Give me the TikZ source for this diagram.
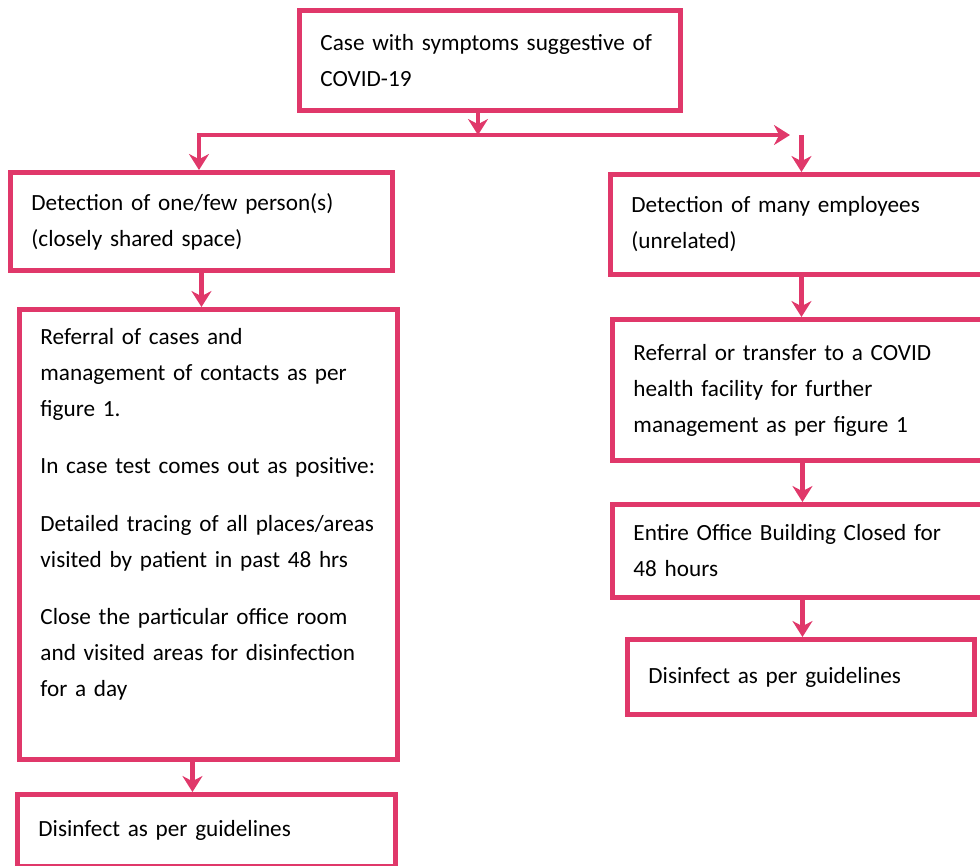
\documentclass[tikz,border=0pt]{standalone}
\usepackage{fontspec}
\setmainfont{Carlito}
\usetikzlibrary{arrows.meta,positioning,calc}
\definecolor{FlowMain}{HTML}{E0386A}
\tikzset{>=Stealth,flowtip/.tip={Stealth[length=3.2mm,width=4mm]},
 flowbox/.style={draw=FlowMain,line width=2.8pt,fill=white,inner xsep=4.2mm,
 inner ysep=2mm,align=left,anchor=north west,font=\fontsize{13.2}{20.5}\selectfont},
 flow/.style={draw=FlowMain,line width=2.8pt},flowarrow/.style={flow,-flowtip}}
\begin{document}
\begin{tikzpicture}[x=0.2mm,y=-0.2mm]
\clip (0,0) rectangle (980,865);
\node[flowbox,text width=6.78cm,minimum height=2cm] (case) at (297,8)
 {Case with symptoms suggestive of\\COVID-19};
\node[flowbox,text width=6.8cm,minimum height=1.96cm] (one) at (8,170)
 {Detection of one/few person(s)\\(closely shared space)};
\node[flowbox,text width=6.72cm,minimum height=9cm] (refone) at (17,307)
 {Referral of cases and\\management of contacts as per\\figure 1.\\[4.2mm]
 In case test comes out as positive:\\[4.2mm]
 Detailed tracing of all places/areas\\visited by patient in past 48 hrs\\[4.2mm]
 Close the particular office room\\and visited areas for disinfection\\for a day\\[1.6mm]\mbox{}};
\node[flowbox,text width=6.72cm,minimum height=1.44cm] (disone) at (15,792)
 {Disinfect as per guidelines};
\node[flowbox,text width=6.8cm,minimum height=2cm] (many) at (608,172)
 {Detection of many employees\\(unrelated)};
\node[flowbox,text width=6.76cm,minimum height=2.82cm] (refmany) at (610,317)
 {Referral or transfer to a COVID\\health facility for further\\management as per figure 1};
\node[flowbox,text width=6.76cm,minimum height=1.86cm] (closed) at (610,502)
 {Entire Office Building Closed for\\48 hours};
\node[flowbox,text width=6.1cm,minimum height=1.5cm] (dismany) at (625,637)
 {Disinfect as per guidelines};
\coordinate (mid) at (478,135);
\coordinate (splitL) at (199,135);
\coordinate (splitR) at (790,135);
\draw[flowarrow] (case.south -| mid) -- (mid);
\draw[flow,flowtip-flowtip] (splitR) -- (splitL) -- (splitL |- one.north);
\draw[flowarrow] (many.north |- splitR) -- (many.north);
\draw[flowarrow] (one.south) -- (one.south |- refone.north);
\draw[flowarrow] ($(refone.south)+(-16,0)$) -- ($(refone.south |- disone.north)+(-16,0)$);
\draw[flowarrow] (many.south) -- (many.south |- refmany.north);
\draw[flowarrow] (refmany.south) -- (refmany.south |- closed.north);
\draw[flowarrow] (closed.south) -- (closed.south |- dismany.north);
\end{tikzpicture}
\end{document}
